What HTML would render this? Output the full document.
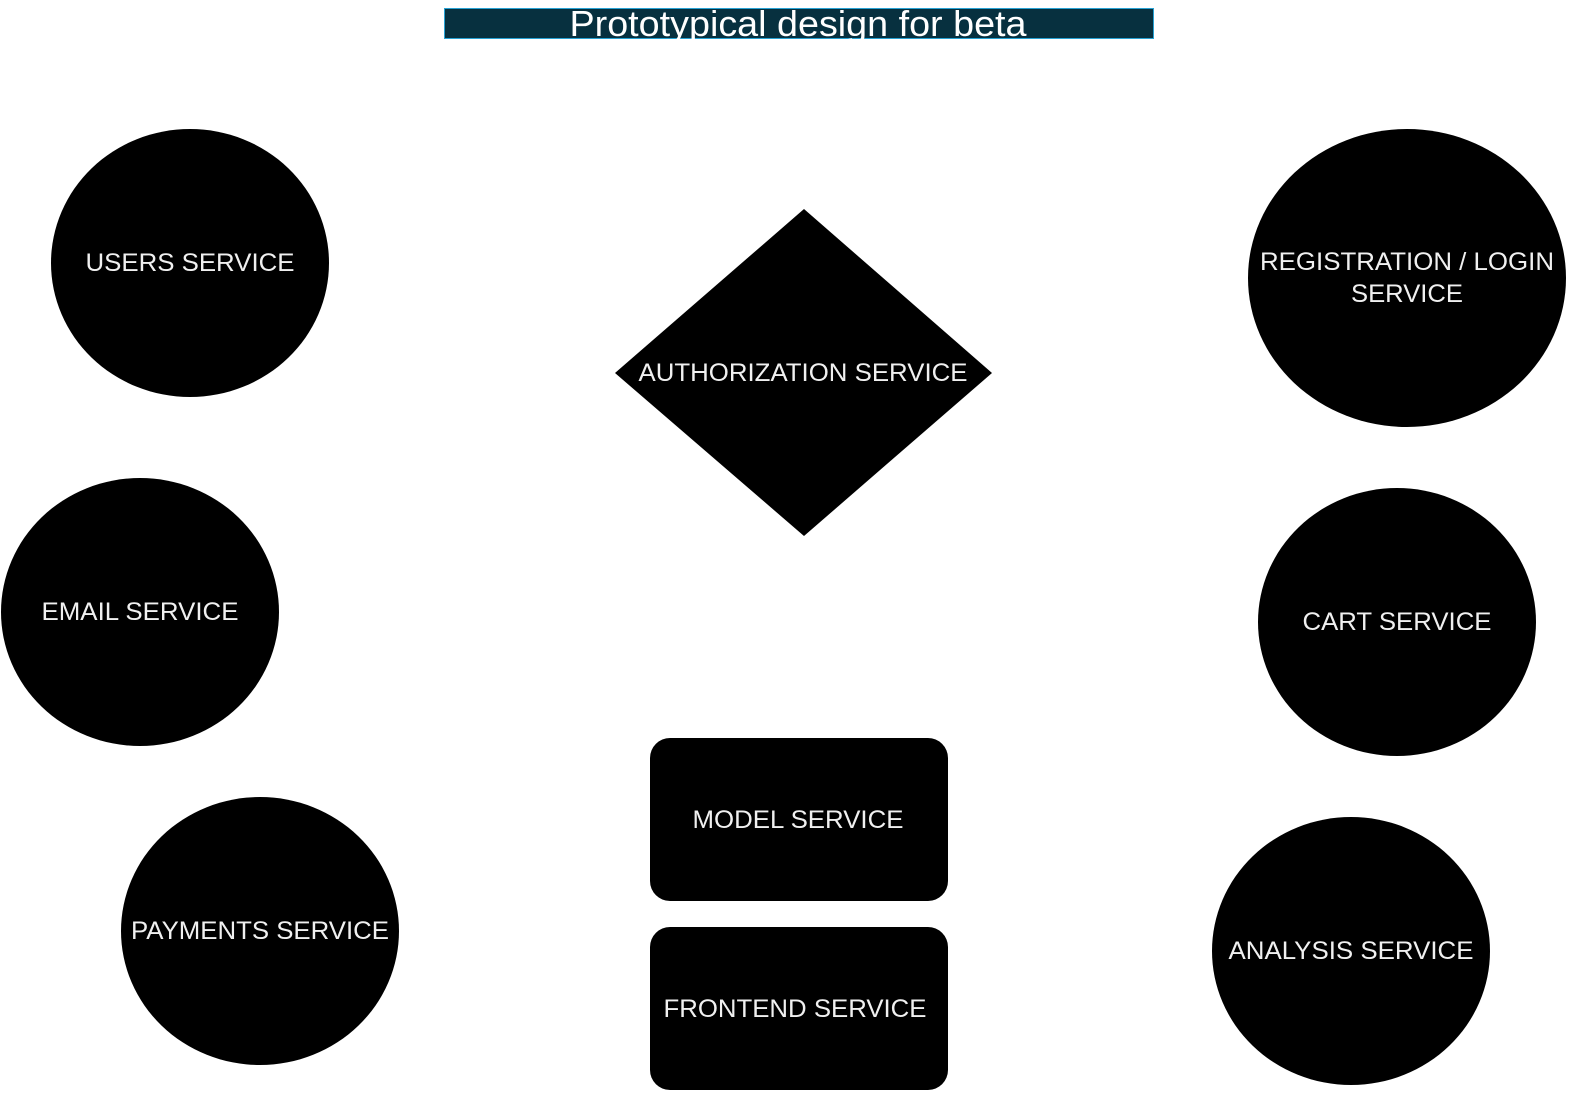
<!DOCTYPE html>
<html><head><meta charset="utf-8"><style>
html,body{margin:0;padding:0;background:#fff;width:1571px;height:1094px;overflow:hidden}
svg text{font-family:"Liberation Sans",sans-serif;fill:#f0f0f0;text-anchor:middle}
</style></head><body>
<svg width="1571" height="1094" viewBox="0 0 1571 1094" xmlns="http://www.w3.org/2000/svg">
<defs><clipPath id="c"><rect x="444" y="8" width="710" height="31"/></clipPath></defs>
<rect x="444.5" y="8.5" width="709" height="30" fill="#07303f" stroke="#27a2d4" stroke-width="1"/>
<text x="798" y="36" font-size="36" textLength="457" lengthAdjust="spacingAndGlyphs" style="fill:#fff" clip-path="url(#c)">Prototypical design for beta</text>

<ellipse cx="190" cy="263" rx="139" ry="134" fill="#000"/>
<text x="190" y="271" font-size="25" textLength="209" lengthAdjust="spacingAndGlyphs">USERS SERVICE</text>
<ellipse cx="140" cy="612" rx="139" ry="134" fill="#000"/>
<text x="140" y="620" font-size="25" textLength="197" lengthAdjust="spacingAndGlyphs">EMAIL SERVICE</text>
<ellipse cx="260" cy="931" rx="139" ry="134" fill="#000"/>
<text x="260" y="939" font-size="25" textLength="258" lengthAdjust="spacingAndGlyphs">PAYMENTS SERVICE</text>

<ellipse cx="1407" cy="278" rx="159" ry="149" fill="#000"/>
<text x="1407" y="270" font-size="25" textLength="294" lengthAdjust="spacingAndGlyphs">REGISTRATION / LOGIN</text>
<text x="1407" y="302" font-size="25" textLength="112" lengthAdjust="spacingAndGlyphs">SERVICE</text>
<ellipse cx="1397" cy="622" rx="139" ry="134" fill="#000"/>
<text x="1397" y="630" font-size="25" textLength="189" lengthAdjust="spacingAndGlyphs">CART SERVICE</text>
<ellipse cx="1351" cy="951" rx="139" ry="134" fill="#000"/>
<text x="1351" y="959" font-size="25" textLength="245" lengthAdjust="spacingAndGlyphs">ANALYSIS SERVICE</text>

<polygon points="804,209 992,373 804,536 615,373" fill="#000"/>
<text x="803" y="381" font-size="25" textLength="329" lengthAdjust="spacingAndGlyphs">AUTHORIZATION SERVICE</text>

<rect x="650" y="738" width="298" height="163" rx="20" fill="#000"/>
<text x="798" y="828" font-size="25" textLength="211" lengthAdjust="spacingAndGlyphs">MODEL SERVICE</text>
<rect x="650" y="927" width="298" height="163" rx="20" fill="#000"/>
<text x="795" y="1017" font-size="25" textLength="263" lengthAdjust="spacingAndGlyphs">FRONTEND SERVICE</text>
</svg>
</body></html>
